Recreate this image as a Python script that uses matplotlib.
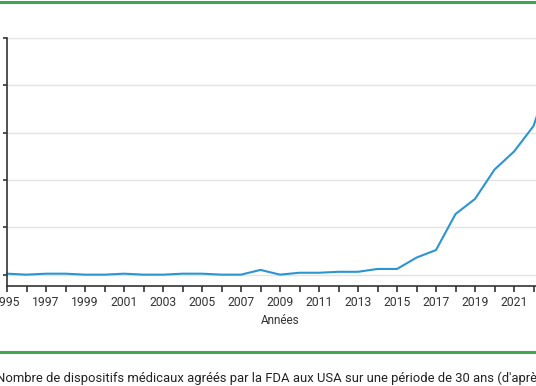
import matplotlib
matplotlib.use("Agg")
import matplotlib.pyplot as plt

# FDA-approved medical devices per year
years = list(range(1995, 2024))
devices = [1, 0, 1, 1, 0, 0, 1, 0, 0, 1, 1, 0, 0, 5, 0, 2, 2, 3, 3, 6,
           6, 18, 26, 64, 80, 111, 130, 157, 218]
ytick_vals = [0, 50, 100, 150, 200, 250]
xtick_major = list(range(1995, 2023, 2))
xtick_minor = list(range(1996, 2023, 2))

caption = ("Nombre de dispositifs médicaux agréés par la FDA aux USA "
           "sur une période de 30 ans (d'après")

plt.rcParams["font.family"] = ["Roboto", "DejaVu Sans"]

W, H = 536, 386
fig = plt.figure(figsize=(W / 100, H / 100), dpi=100)
ax = fig.add_axes([7 / W, (H - 286) / H, 546 / W, 248 / H])

ax.plot(years, devices, color="#2b95d4", lw=1.5, clip_on=False)

ax.set_xlim(1995, 2023)
ax.set_ylim(-12, 250)
ax.set_yticks(ytick_vals)
ax.set_yticklabels([])
ax.set_xticks(xtick_major)
ax.set_xticks(xtick_minor, minor=True)
ax.set_xticklabels([str(y) for y in xtick_major])
ax.grid(axis="y", color="#e3e3e3", lw=1)
ax.set_axisbelow(True)

for s in ("top", "right"):
    ax.spines[s].set_visible(False)
for s in ("left", "bottom"):
    ax.spines[s].set_color("#333333")
    ax.spines[s].set_linewidth(1.2)
ax.tick_params(axis="y", length=3, width=1.2, color="#333333")
ax.tick_params(axis="x", which="both", length=4, width=1.2, color="#333333",
               labelsize=8.7, labelcolor="#333333", pad=3)
ax.set_xlabel("Années", fontsize=8.5, color="#333333", labelpad=4)

# green frame lines and caption
fig.add_artist(plt.Line2D([0, 1], [1 - 1.5 / H, 1 - 1.5 / H], color="#3ea84c", lw=2.2))
fig.add_artist(plt.Line2D([0, 1], [1 - 352 / H, 1 - 352 / H], color="#3ea84c", lw=2.2))
fig.text(-4 / W, 1 - 378 / H, caption, fontsize=9.4, color="#222222",
         ha="left", va="center")

fig.savefig("out.png", dpi=100)
